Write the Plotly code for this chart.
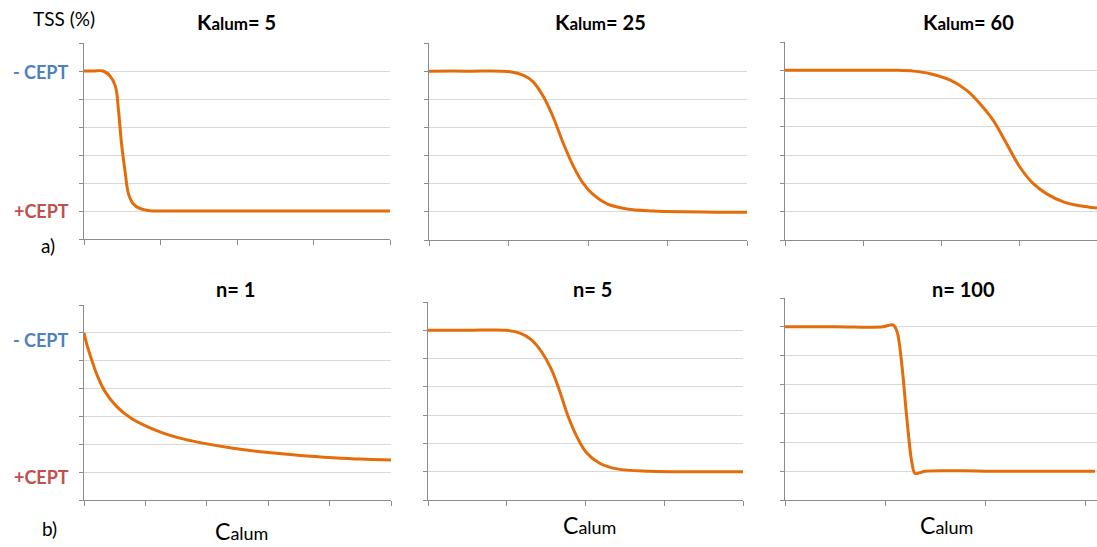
import plotly.graph_objects as go

W, H = 1097, 547

# --- curve values (TSS level: 6 = "- CEPT", 1 = "+CEPT"), x in C_alum units ---
kalum5_x = [0, 0.12, 0.25, 0.34, 0.41, 0.45, 0.49, 0.54, 0.58, 0.64, 0.73, 0.86, 0.99, 2.0, 3.0, 4.0]
kalum5_y = [6.0, 6.0, 6.0, 5.82, 5.46, 4.62, 3.42, 2.35, 1.63, 1.27, 1.09, 1.01, 1.0, 1.0, 1.0, 1.0]

kalum25_x = [0, 0.5, 1.02, 1.19, 1.31, 1.44, 1.56, 1.69, 1.82, 1.94, 2.07, 2.24, 2.49, 2.82, 3.2, 3.6, 4.0]
kalum25_y = [6.0, 6.0, 5.98, 5.85, 5.62, 5.09, 4.38, 3.43, 2.60, 2.01, 1.60, 1.28, 1.10, 1.03, 1.0, 0.99, 0.99]

kalum60_x = [0, 0.5, 1.0, 1.45, 1.65, 1.86, 2.12, 2.33, 2.50, 2.67, 2.84, 3.01, 3.18, 3.35, 3.57, 3.78, 4.0]
kalum60_y = [6.0, 6.0, 6.0, 6.0, 5.97, 5.88, 5.65, 5.29, 4.82, 4.23, 3.41, 2.58, 2.00, 1.64, 1.35, 1.21, 1.13]

n1_x = [0, 0.05, 0.1, 0.21, 0.34, 0.53, 0.75, 1.02, 1.29, 1.56, 1.89, 2.43, 2.97, 3.52, 4.06, 4.5, 5.0]
n1_y = [6.0, 5.55, 5.20, 4.50, 3.90, 3.36, 2.96, 2.64, 2.40, 2.22, 2.06, 1.86, 1.71, 1.60, 1.52, 1.47, 1.44]

n5_x = [0, 0.5, 1.0, 1.17, 1.31, 1.44, 1.57, 1.68, 1.78, 1.89, 2.01, 2.18, 2.40, 2.82, 3.3, 3.65, 4.0]
n5_y = [6.0, 6.0, 6.0, 5.90, 5.67, 5.25, 4.60, 3.78, 2.95, 2.24, 1.68, 1.30, 1.10, 1.02, 1.0, 1.0, 1.0]

n100_x = [0, 0.5, 0.98, 1.03, 1.08, 1.12, 1.17, 1.22, 1.27, 1.30, 1.35, 1.40, 2.0, 2.5, 3.1]
n100_y = [6.0, 6.0, 6.0, 6.05, 6.07, 5.84, 4.63, 2.77, 1.27, 0.92, 0.95, 1.0, 1.0, 1.0, 1.0]

x_ranges = [4, 4, 4, 5, 4, 3.12]

# plot-area pixel boxes (left, right, top, bottom)
boxes = [
    (84, 390, 43, 239),
    (429, 747, 43, 240),
    (785, 1097, 42, 240),
    (84, 391, 305, 500),
    (428, 743, 302, 500),
    (785, 1097, 298, 500),
]

series = [
    (kalum5_x, kalum5_y), (kalum25_x, kalum25_y), (kalum60_x, kalum60_y),
    (n1_x, n1_y), (n5_x, n5_y), (n100_x, n100_y),
]

ORANGE = "#E46C0A"
GRID = "#D9D9D9"
AXIS = "#8C8C8C"
FONT = "Lato"

fig = go.Figure()
layout = {}
for i, ((xs, ys), (l, r, t, b), xr) in enumerate(zip(series, boxes, x_ranges), start=1):
    sfx = "" if i == 1 else str(i)
    fig.add_trace(go.Scatter(
        x=xs, y=ys, mode="lines",
        line=dict(color=ORANGE, width=3, shape="spline", smoothing=1.0),
        xaxis="x" + sfx, yaxis="y" + sfx, showlegend=False, hoverinfo="skip",
    ))
    layout["xaxis" + sfx] = dict(
        domain=[l / W, r / W], range=[0, xr], anchor="y" + sfx,
        dtick=1, tick0=0, showgrid=False, zeroline=False,
        showline=True, linecolor=AXIS, linewidth=1,
        ticks="outside", ticklen=5, tickcolor=AXIS, showticklabels=False,
        fixedrange=True,
    )
    layout["yaxis" + sfx] = dict(
        domain=[1 - b / H, 1 - t / H], range=[0, 7], anchor="x" + sfx,
        dtick=1, tick0=0, showgrid=True, gridcolor=GRID, gridwidth=1,
        zeroline=False, showline=True, linecolor=AXIS, linewidth=1,
        ticks="outside", ticklen=4, tickcolor=AXIS, showticklabels=False,
        fixedrange=True,
    )

fig.update_layout(**layout)


def note(text, px, py, size, color="#000000", bold=False, xanchor="center"):
    if bold:
        text = "<b>" + text + "</b>"
    fig.add_annotation(
        text=text, x=px / W, y=1 - py / H, xref="paper", yref="paper",
        xanchor=xanchor, yanchor="middle", showarrow=False,
        font=dict(family=FONT, size=size, color=color),
    )


def kalum(v):
    return ("<span style='font-size:21px'>K</span>"
            "<span style='font-size:17px'>alum</span>= " + v)


def calum():
    return ("<span style='font-size:23px'>C</span>"
            "<span style='font-size:18px'>alum</span>")


note(kalum("5"), 236, 22, 20, bold=True)
note(kalum("25"), 600, 22, 20, bold=True)
note(kalum("60"), 968, 22, 20, bold=True)
note("n= 1", 235, 289, 20, bold=True)
note("n= 5", 592, 289, 20, bold=True)
note("n= 100", 963, 289, 20, bold=True)

note(calum(), 241, 531, 20)
note(calum(), 589, 525, 20)
note(calum(), 946, 525, 20)

note("TSS (%)", 64, 19, 19)
note("a)", 48, 246, 19)
note("b)", 49, 528, 19)

BLUE = "#4F81BD"
RED = "#C0504D"
note("- CEPT", 40, 72, 18, color=BLUE, bold=True)
note("+CEPT", 41, 211, 18, color=RED, bold=True)
note("- CEPT", 40, 340, 18, color=BLUE, bold=True)
note("+CEPT", 41, 477, 18, color=RED, bold=True)

fig.update_layout(
    width=W, height=H,
    margin=dict(l=0, r=0, t=0, b=0),
    paper_bgcolor="white", plot_bgcolor="white",
)

fig.write_html("out.html", config={"displayModeBar": False})
